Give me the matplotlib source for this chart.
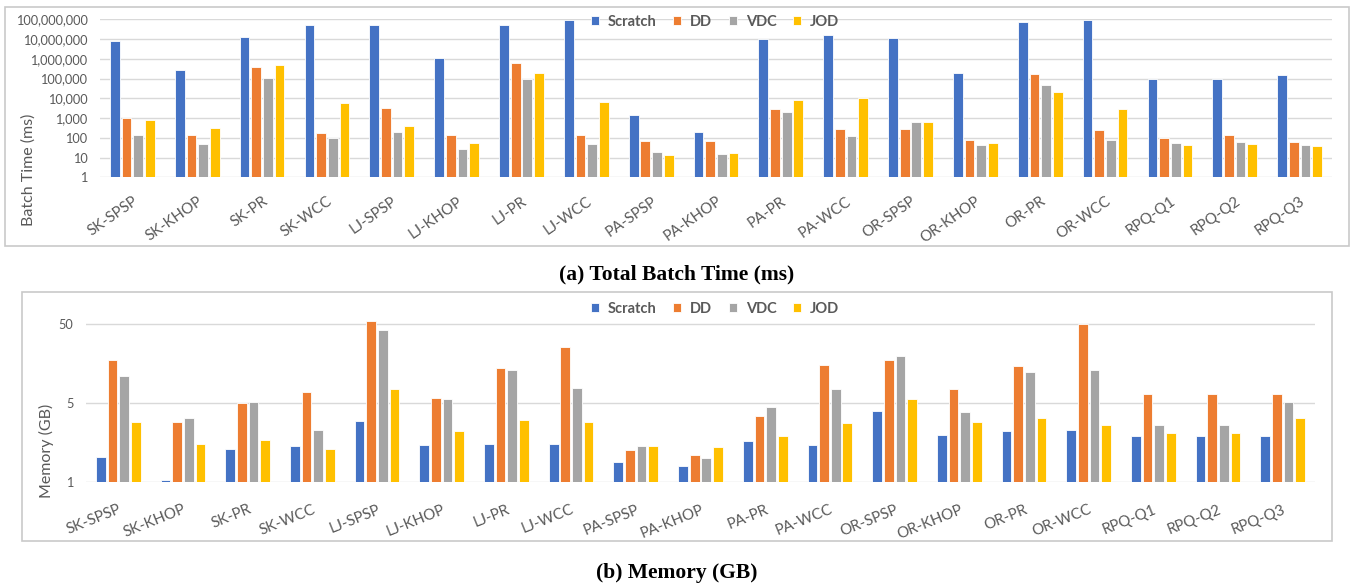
import matplotlib
matplotlib.use("Agg")
import matplotlib.pyplot as plt
from matplotlib.patches import Rectangle
from matplotlib.ticker import FixedLocator, FuncFormatter
import numpy as np

categories = ["SK-SPSP", "SK-KHOP", "SK-PR", "SK-WCC", "LJ-SPSP", "LJ-KHOP", "LJ-PR", "LJ-WCC",
              "PA-SPSP", "PA-KHOP", "PA-PR", "PA-WCC", "OR-SPSP", "OR-KHOP", "OR-PR", "OR-WCC",
              "RPQ-Q1", "RPQ-Q2", "RPQ-Q3"]
series_names = ["Scratch", "DD", "VDC", "JOD"]
colors = ["#4472C4", "#ED7D31", "#A5A5A5", "#FFC000"]

# (a) Total batch time (ms)
time_scratch = [8.0e6, 2.7e5, 1.27e7, 5.3e7, 5.3e7, 1.1e6, 4.9e7, 9.5e7, 1380, 190,
                9.8e6, 1.55e7, 1.13e7, 1.85e5, 7.3e7, 8.9e7, 9.5e4, 9.5e4, 1.58e5]
time_dd = [1000, 138, 3.7e5, 175, 3200, 138, 6.3e5, 138, 66, 69,
           2900, 280, 270, 75, 1.7e5, 247, 100, 134, 63]
time_vdc = [134, 49, 1.06e5, 100, 195, 27, 9.5e4, 49, 19, 14.6,
            1950, 128, 630, 42, 4.6e4, 75, 53, 59, 42]
time_jod = [800, 316, 5.0e5, 5600, 410, 55, 1.9e5, 6300, 13.5, 17,
            8200, 10400, 650, 57, 2.15e4, 2900, 43, 49, 38]
time_ticks = [1, 10, 100, 1000, 1e4, 1e5, 1e6, 1e7, 1e8]

# (b) Memory (GB)
mem_scratch = [1.02, 0.52, 1.31, 1.42, 2.92, 1.47, 1.52, 1.49, 0.90, 0.80,
               1.64, 1.45, 3.94, 1.94, 2.18, 2.28, 1.91, 1.91, 1.90]
mem_dd = [17.3, 2.86, 4.93, 6.86, 54.6, 5.81, 13.8, 25.5, 1.25, 1.09,
          3.43, 15.2, 17.5, 7.5, 14.8, 50.0, 6.41, 6.41, 6.41]
mem_vdc = [10.9, 3.21, 5.08, 2.28, 41.6, 5.6, 12.9, 7.78, 1.42, 0.99,
           4.43, 7.56, 19.6, 3.86, 12.2, 13.2, 2.6, 2.6, 5.08]
mem_jod = [2.83, 1.52, 1.68, 1.30, 7.5, 2.18, 3.03, 2.86, 1.41, 1.39,
           1.88, 2.77, 5.6, 2.86, 3.21, 2.6, 2.09, 2.09, 3.21]
mem_ticks = [0.5, 5, 50]
mem_tick_labels = ["1", "5", "50"]

W, H = 1354, 585
fig = plt.figure(figsize=(W / 100, H / 100), dpi=100)
plt.rcParams['font.family'] = ['Lato', 'DejaVu Sans']

TXT = "#595959"
GRID = "#D9D9D9"
FRAME = "#C9C9C9"


def fx(px):
    return px / W


def fy(py):
    return 1 - py / H


def draw_bars(ax, data):
    x = np.arange(len(categories))
    step = 0.18
    for i, (vals, c) in enumerate(zip(data, colors)):
        ax.bar(x + (i - 1.5) * step, vals, width=0.15, color=c, edgecolor="white",
               linewidth=0.6, zorder=3, label=series_names[i])
    ax.set_xlim(-0.5, len(categories) - 0.5)
    ax.set_xticks(x)
    for s in ax.spines.values():
        s.set_visible(False)
    ax.tick_params(axis="both", length=0, colors=TXT)
    ax.grid(axis="y", color=GRID, linewidth=1.0, zorder=0)
    ax.set_axisbelow(True)


# frames
fig.patches.append(Rectangle((fx(5), fy(246)), fx(1349) - fx(5), fy(7) - fy(246),
                             transform=fig.transFigure, fill=False, edgecolor=FRAME, linewidth=1.2))
fig.patches.append(Rectangle((fx(22), fy(541)), fx(1332) - fx(22), fy(292) - fy(541),
                             transform=fig.transFigure, fill=False, edgecolor=FRAME, linewidth=1.2))

# top axes
ax1 = fig.add_axes([fx(100), fy(177.3), fx(1332) - fx(100), fy(19.3) - fy(177.3)])
draw_bars(ax1, [time_scratch, time_dd, time_vdc, time_jod])
ax1.set_yscale("log")
ax1.set_ylim(1, 1e8)
ax1.yaxis.set_major_locator(FixedLocator(time_ticks))
ax1.yaxis.set_minor_locator(FixedLocator([]))
ax1.yaxis.set_major_formatter(FuncFormatter(lambda v, p: f"{int(round(v)):,}"))
ax1.tick_params(axis="y", labelsize=9.2, pad=9)
ax1.set_xticklabels(categories, rotation=35, ha="right", rotation_mode="anchor", fontsize=10.8)
ax1.tick_params(axis="x", pad=12)
fig.text(fx(29), fy(170), "Batch Time (ms)", rotation=90, ha="center", va="center",
         fontsize=11.5, color=TXT)

# bottom axes
dec = 78.85
top_px = 481.7 - dec * np.log10(60 / 0.5)
ax2 = fig.add_axes([fx(86), fy(481.7), fx(1315) - fx(86), fy(top_px) - fy(481.7)])
draw_bars(ax2, [mem_scratch, mem_dd, mem_vdc, mem_jod])
ax2.set_yscale("log")
ax2.set_ylim(0.5, 60)
ax2.yaxis.set_major_locator(FixedLocator(mem_ticks))
ax2.yaxis.set_minor_locator(FixedLocator([]))
ax2.set_yticklabels(mem_tick_labels)
ax2.tick_params(axis="y", labelsize=9.2, pad=9)
ax2.set_xticklabels(categories, rotation=22, ha="right", rotation_mode="anchor", fontsize=10.8)
ax2.tick_params(axis="x", pad=15)
fig.text(fx(46), fy(451), "Memory (GB)", rotation=90, ha="center", va="center",
         fontsize=11.5, color=TXT)

# legends
handles, labels = ax1.get_legend_handles_labels()
for ycen in (22, 309):
    leg = fig.legend(handles, labels, loc="center", bbox_to_anchor=(fx(715), fy(ycen)),
                     ncol=4, frameon=False, handlelength=0.55, handleheight=0.55,
                     columnspacing=1.15, handletextpad=0.6,
                     prop={"family": ["Lato", "DejaVu Sans"], "weight": "bold", "size": 10.5})
    for t in leg.get_texts():
        t.set_color(TXT)

# captions
fig.text(fx(677), fy(274), "(a) Total Batch Time (ms)", ha="center", va="center",
         fontsize=15.5, fontweight="bold", family=["Liberation Serif", "DejaVu Serif"], color="black")
fig.text(fx(677), fy(573), "(b) Memory (GB)", ha="center", va="center",
         fontsize=15.5, fontweight="bold", family=["Liberation Serif", "DejaVu Serif"], color="black")

fig.savefig("out.png", dpi=100)
